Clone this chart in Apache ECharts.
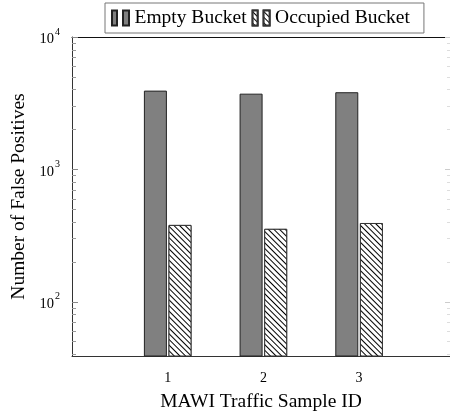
<!DOCTYPE html>
<html>
<head>
<meta charset="utf-8">
<script src="https://cdn.jsdelivr.net/npm/echarts@6/dist/echarts.min.js"></script>
<style>html,body{margin:0;padding:0;background:#fff;}#c{width:450px;height:417px;}</style>
</head>
<body>
<div id="c"></div>
<script>
// ---- data ----
var sampleIds = [1, 2, 3];
var emptyBucket = [3936, 3733, 3828];
var occupiedBucket = [381, 356, 394];
var seriesNames = ['Empty Bucket', 'Occupied Bucket'];
var majorTicks = [100, 1000, 10000];
var minorTicks = [40, 50, 60, 70, 80, 90, 200, 300, 400, 500, 600, 700, 800, 900, 2000, 3000, 4000, 5000, 6000, 7000, 8000, 9000];
var xTickLabels = ['1', '2', '3'];

var FONT = '"Liberation Serif", "DejaVu Serif", serif';
var chart = echarts.init(document.getElementById('c'), null, {renderer: 'canvas'});

function pairs(vals) { return sampleIds.map(function (id, i) { return [id, vals[i]]; }); }

var iconPath = 'path://M0,0h5v15h-5z M11,0h6v15h-6z';
var hatch = {
  symbol: 'rect', symbolSize: 1, color: '#000', backgroundColor: '#fff',
  dashArrayX: [1, 0], dashArrayY: [1, 2.6], rotation: Math.PI / 4
};

function yAxisCfg(pos, ticks, len, color, labels) {
  return {
    type: 'log', logBase: 10, min: 39, max: 10000, position: pos,
    axisLine: {show: pos === 'left' && labels, lineStyle: {color: '#333', width: 1}},
    axisTick: {show: true, inside: true, length: len, customValues: ticks, lineStyle: {color: color, width: 1}},
    axisLabel: labels ? {
      show: true, customValues: majorTicks, margin: 12,
      formatter: function (v) {
        var e = Math.round(Math.log10(v));
        return '{b|10}{e|' + e + '}';
      },
      rich: {
        b: {fontFamily: FONT, fontSize: 14.5, color: '#000', lineHeight: 20, verticalAlign: 'bottom'},
        e: {fontFamily: FONT, fontSize: 10, color: '#000', lineHeight: 20, verticalAlign: 'top', padding: [0, 0, 0, 1]}
      }
    } : {show: false},
    splitLine: {show: false},
    name: labels ? 'Number of False Positives' : '',
    nameLocation: 'middle', nameGap: 41,
    nameTextStyle: {fontFamily: FONT, fontSize: 19.5, color: '#000'}
  };
}

chart.setOption({
  animation: false,
  backgroundColor: '#fff',
  grid: {left: 72, top: 37, bottom: 61, right: -1, containLabel: false},
  legend: {
    left: 105, top: 3,
    padding: [5, 14, 5, 6],
    borderColor: '#777', borderWidth: 1,
    itemWidth: 18, itemHeight: 15, itemGap: 5,
    textStyle: {fontFamily: FONT, fontSize: 19.5, color: '#000', padding: [0, 0, 0, 0]},
    data: [{name: seriesNames[0], icon: iconPath}, {name: seriesNames[1], icon: iconPath}]
  },
  xAxis: [{
    type: 'value', min: 0, max: 3.95, interval: 1, position: 'bottom',
    axisLine: {show: true, lineStyle: {color: '#333', width: 1}},
    axisTick: {show: false},
    axisLabel: {
      customValues: sampleIds, margin: 15,
      formatter: function (v) { return xTickLabels[sampleIds.indexOf(v)] || ''; },
      fontFamily: FONT, fontSize: 14, color: '#000'
    },
    splitLine: {show: false},
    name: 'MAWI Traffic Sample ID', nameLocation: 'middle', nameGap: 36,
    nameTextStyle: {fontFamily: FONT, fontSize: 19.5, color: '#000'}
  }, {
    type: 'value', min: 0, max: 3.95, position: 'top',
    axisLine: {show: true, lineStyle: {color: '#111', width: 1}},
    axisTick: {show: false}, axisLabel: {show: false}, splitLine: {show: false}
  }],
  yAxis: [
    yAxisCfg('left', majorTicks, 6, '#888', true),
    yAxisCfg('left', minorTicks, 4, '#999', false),
    yAxisCfg('right', majorTicks, 5, '#ccc', false),
    yAxisCfg('right', minorTicks, 3, '#ddd', false)
  ],
  series: [{
    name: seriesNames[0], type: 'bar', xAxisIndex: 0, yAxisIndex: 0,
    barWidth: 23, barGap: '7%', clip: true,
    itemStyle: {color: '#808080', borderColor: '#222', borderWidth: 1},
    data: pairs(emptyBucket)
  }, {
    name: seriesNames[1], type: 'bar', xAxisIndex: 0, yAxisIndex: 0,
    barWidth: 23, barGap: '7%', clip: true,
    itemStyle: {color: '#fff', borderColor: '#333', borderWidth: 1, decal: hatch},
    data: pairs(occupiedBucket)
  }]
});
</script>
</body>
</html>
